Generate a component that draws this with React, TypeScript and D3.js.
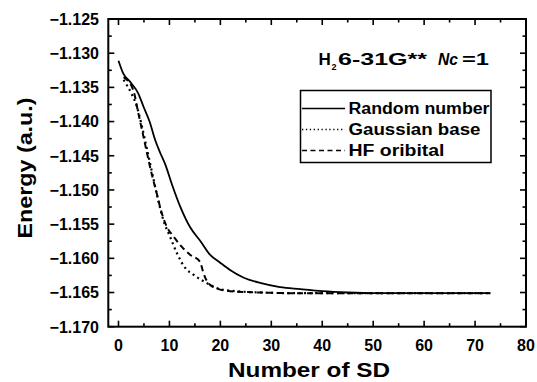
import React from "react";
import * as d3 from "d3";

const randomX = [0, 0.9, 2.3, 3.9, 4.9, 6.1, 7.2, 8.2, 9.2, 10.5, 12.1, 14.1, 16.1, 18, 19.9, 21.9, 24.5, 27.8, 31.7, 35.7, 40, 45, 50, 60, 73];
const randomY = [-1.1311, -1.1329, -1.1342, -1.1359, -1.1378, -1.14, -1.1427, -1.1446, -1.1463, -1.1492, -1.1524, -1.1555, -1.1575, -1.1595, -1.1606, -1.1617, -1.1628, -1.1636, -1.1642, -1.1645, -1.1648, -1.165, -1.1651, -1.1651, -1.1651];

const gaussX = [1, 2.6, 3.6, 4.6, 5.2, 6.2, 6.9, 7.8, 8.8, 10.1, 11.5, 13.1, 14.7, 17.3, 19.9, 23, 28, 35, 73];
const gaussY = [-1.1339, -1.136, -1.1378, -1.1407, -1.1427, -1.1461, -1.1485, -1.1515, -1.1544, -1.1568, -1.1593, -1.1614, -1.1624, -1.1636, -1.1645, -1.1648, -1.165, -1.1651, -1.1651];

const hfX = [1, 2.9, 3.9, 4.9, 6.5, 7.5, 8.5, 9.5, 10.8, 12.4, 14.1, 16, 16.7, 17.6, 19.3, 21.9, 28, 35, 73];
const hfY = [-1.1335, -1.1354, -1.1388, -1.1422, -1.1476, -1.1505, -1.1534, -1.1554, -1.1568, -1.1583, -1.1595, -1.1605, -1.1622, -1.1636, -1.1644, -1.1648, -1.165, -1.1651, -1.1651];

const xTickValues = [0, 10, 20, 30, 40, 50, 60, 70, 80];
const yTickValues = [-1.125, -1.13, -1.135, -1.14, -1.145, -1.15, -1.155, -1.16, -1.165, -1.17];
const seriesNames = ["Random number", "Gaussian base", "HF oribital"];

const W = 537;
const H = 382;
const L = 108.3, R = 526, T = 19, B = 326.7;
const FONT = "'Liberation Sans', Arial, sans-serif";

export default function App() {
  const x = d3.scaleLinear().domain([-2, 80]).range([L, R]);
  const y = d3.scaleLinear().domain([-1.17, -1.125]).range([B, T]);

  const line = d3
    .line<[number, number]>()
    .x((d) => x(d[0]))
    .y((d) => y(d[1]))
    .curve(d3.curveMonotoneX);

  const series = [
    { xs: randomX, ys: randomY, dash: undefined as string | undefined, width: 1.8 },
    { xs: gaussX, ys: gaussY, dash: "2,3.5", width: 2.2 },
    { xs: hfX, ys: hfY, dash: "6,4", width: 2 },
  ];

  const xMinor = d3.range(0, 81, 5);
  const yMinor = d3.range(0, 19).map((i) => -1.17 + i * 0.0025);

  const ticks: React.ReactNode[] = [];
  xMinor.forEach((v, i) => {
    const major = v % 10 === 0;
    const len = major ? 6 : 3.5;
    const px = x(v);
    ticks.push(<line key={"xb" + i} x1={px} x2={px} y1={B} y2={B - len} stroke="#000" strokeWidth={1.6} />);
    ticks.push(<line key={"xt" + i} x1={px} x2={px} y1={T} y2={T + len} stroke="#000" strokeWidth={1.6} />);
  });
  yMinor.forEach((v, i) => {
    const major = i % 2 === 0;
    const len = major ? 6 : 3.5;
    const py = y(v);
    ticks.push(<line key={"yl" + i} x1={L} x2={L + len} y1={py} y2={py} stroke="#000" strokeWidth={1.6} />);
    ticks.push(<line key={"yr" + i} x1={R} x2={R - len} y1={py} y2={py} stroke="#000" strokeWidth={1.6} />);
  });

  const legX = 300.5, legY = 90.5, legW = 190.5, legH = 72;
  const rowY = [108.5, 129.5, 150.5];

  return (
    <svg
      width={W}
      height={H}
      viewBox={`0 0 ${W} ${H}`}
      style={{ position: "absolute", left: 0, top: 0, background: "#fff" }}
      fontFamily={FONT}
    >
      <rect x={0} y={0} width={W} height={H} fill="#fff" />
      {series.map((s, i) => (
        <path
          key={i}
          d={line(s.xs.map((v, j) => [v, s.ys[j]] as [number, number])) || ""}
          fill="none"
          stroke="#000"
          strokeWidth={s.width}
          strokeDasharray={s.dash}
        />
      ))}
      {ticks}
      <rect x={L} y={T} width={R - L} height={B - T} fill="none" stroke="#000" strokeWidth={2} />

      {xTickValues.map((v) => (
        <text key={"xl" + v} x={x(v)} y={351} textAnchor="middle" fontSize={16} fontWeight="bold">
          {v}
        </text>
      ))}
      {yTickValues.map((v) => (
        <text
          key={"yl" + v}
          x={99}
          y={y(v) + 5.8}
          textAnchor="end"
          fontSize={16}
          fontWeight="bold"
        >
          {"\u2212" + Math.abs(v).toFixed(3)}
        </text>
      ))}

      <text x={309} y={377} textAnchor="middle" fontSize={20.5} fontWeight="bold" textLength={162} lengthAdjust="spacingAndGlyphs">
        Number of SD
      </text>
      <text
        transform={`translate(32,168) rotate(-90)`}
        textAnchor="middle"
        fontSize={21}
        fontWeight="bold"
        textLength={141}
        lengthAdjust="spacingAndGlyphs"
      >
        Energy (a.u.)
      </text>

      <text y={64.7} fontSize={17} fontWeight="bold">
        <tspan x={318.5}>H</tspan>
        <tspan x={331.5} y={69.5} fontSize={9}>2</tspan>
        <tspan x={338} y={64.7} textLength={89} lengthAdjust="spacingAndGlyphs">6-31G**</tspan>
        <tspan x={438} fontStyle="italic" textLength={20} lengthAdjust="spacingAndGlyphs">Nc</tspan>
        <tspan x={462} textLength={27} lengthAdjust="spacingAndGlyphs">=1</tspan>
      </text>

      <rect x={legX} y={legY} width={legW} height={legH} fill="#fff" stroke="#000" strokeWidth={1.5} />
      {seriesNames.map((name, i) => (
        <g key={name}>
          <line
            x1={302}
            x2={345}
            y1={rowY[i]}
            y2={rowY[i]}
            stroke="#000"
            strokeWidth={i === 1 ? 1.3 : 1.6}
            strokeDasharray={i === 0 ? undefined : i === 1 ? "1.3,2.6" : "5,3.5"}
          />
          <text
            x={348.5}
            y={rowY[i] + 5.7}
            fontSize={16}
            fontWeight="bold"
            textLength={[141, 132, 96][i]}
            lengthAdjust="spacingAndGlyphs"
          >
            {name}
          </text>
        </g>
      ))}
    </svg>
  );
}
